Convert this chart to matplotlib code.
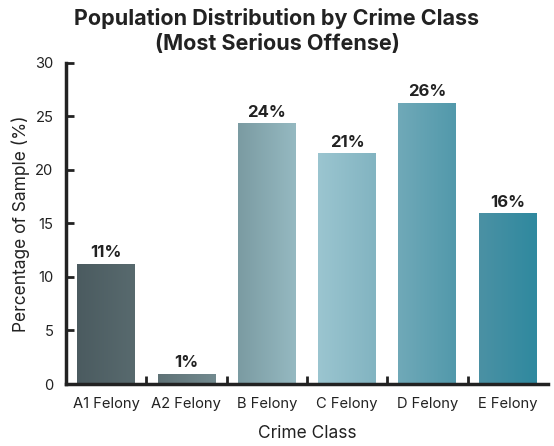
import numpy as np
import matplotlib.pyplot as plt
from matplotlib.colors import LinearSegmentedColormap

categories = ['A1 Felony', 'A2 Felony', 'B Felony', 'C Felony', 'D Felony', 'E Felony']
values = [11.2, 0.9, 24.3, 21.5, 26.2, 15.9]
labels = ['11%', '1%', '24%', '21%', '26%', '16%']

# left / right colour of the gradient in each bar
grad = [('#4b5b60', '#586a6e'), ('#5f7276', '#728a8f'), ('#7b9ba2', '#95b9c1'),
        ('#9bc5d0', '#82b4c1'), ('#70a9b8', '#5299ab'), ('#4b91a4', '#2f899f')]

plt.rcParams['font.family'] = ['Inter', 'DejaVu Sans']
ink = '#222222'

fig = plt.figure(figsize=(5.54, 4.46), dpi=100)
ax = fig.add_axes([0.119, 0.139, 0.870, 0.720])

x = np.arange(len(categories))
w = 0.72
bars = ax.bar(x, values, width=w, color='none')
ramp = np.linspace(0, 1, 64).reshape(1, -1)
for b, (c0, c1), lab in zip(bars, grad, labels):
    cm = LinearSegmentedColormap.from_list('g', [c0, c1])
    x0, h = b.get_x(), b.get_height()
    ax.imshow(ramp, cmap=cm, aspect='auto', interpolation='bilinear',
              extent=(x0, x0 + b.get_width(), 0, h), zorder=2)
    ax.text(x0 + b.get_width() / 2, h + 0.4, lab, ha='center', va='bottom',
            fontsize=12, fontweight='bold', color=ink)

ax.set_xlim(-0.5, 5.5)
ax.set_ylim(0, 30)
ax.set_xticks(x)
ax.set_xticklabels(categories)
ax.set_xticks(x[:-1] + 0.5, minor=True)
ax.set_yticks(range(0, 31, 5))

for s in ['top', 'right']:
    ax.spines[s].set_visible(False)
for s in ['left', 'bottom']:
    ax.spines[s].set_linewidth(2.5)
    ax.spines[s].set_color(ink)

ax.tick_params(axis='x', which='major', length=0, pad=9, labelsize=10.6, labelcolor=ink)
ax.tick_params(axis='x', which='minor', direction='in', length=6, width=2, color=ink)
ax.tick_params(axis='y', direction='in', length=6, width=2, color=ink,
               pad=9, labelsize=10.6, labelcolor=ink)

ax.set_xlabel('Crime Class', fontsize=12.5, color=ink)
ax.set_ylabel('Percentage of Sample (%)', fontsize=12.5, color=ink)
ax.xaxis.set_label_coords(0.5, -0.128)
ax.yaxis.set_label_coords(-0.075, 0.5)
fig.suptitle('Population Distribution by Crime Class\n(Most Serious Offense)',
             fontsize=15.5, fontweight='bold', color=ink, y=0.982, linespacing=1.3)

fig.savefig('out.png', dpi=100)
